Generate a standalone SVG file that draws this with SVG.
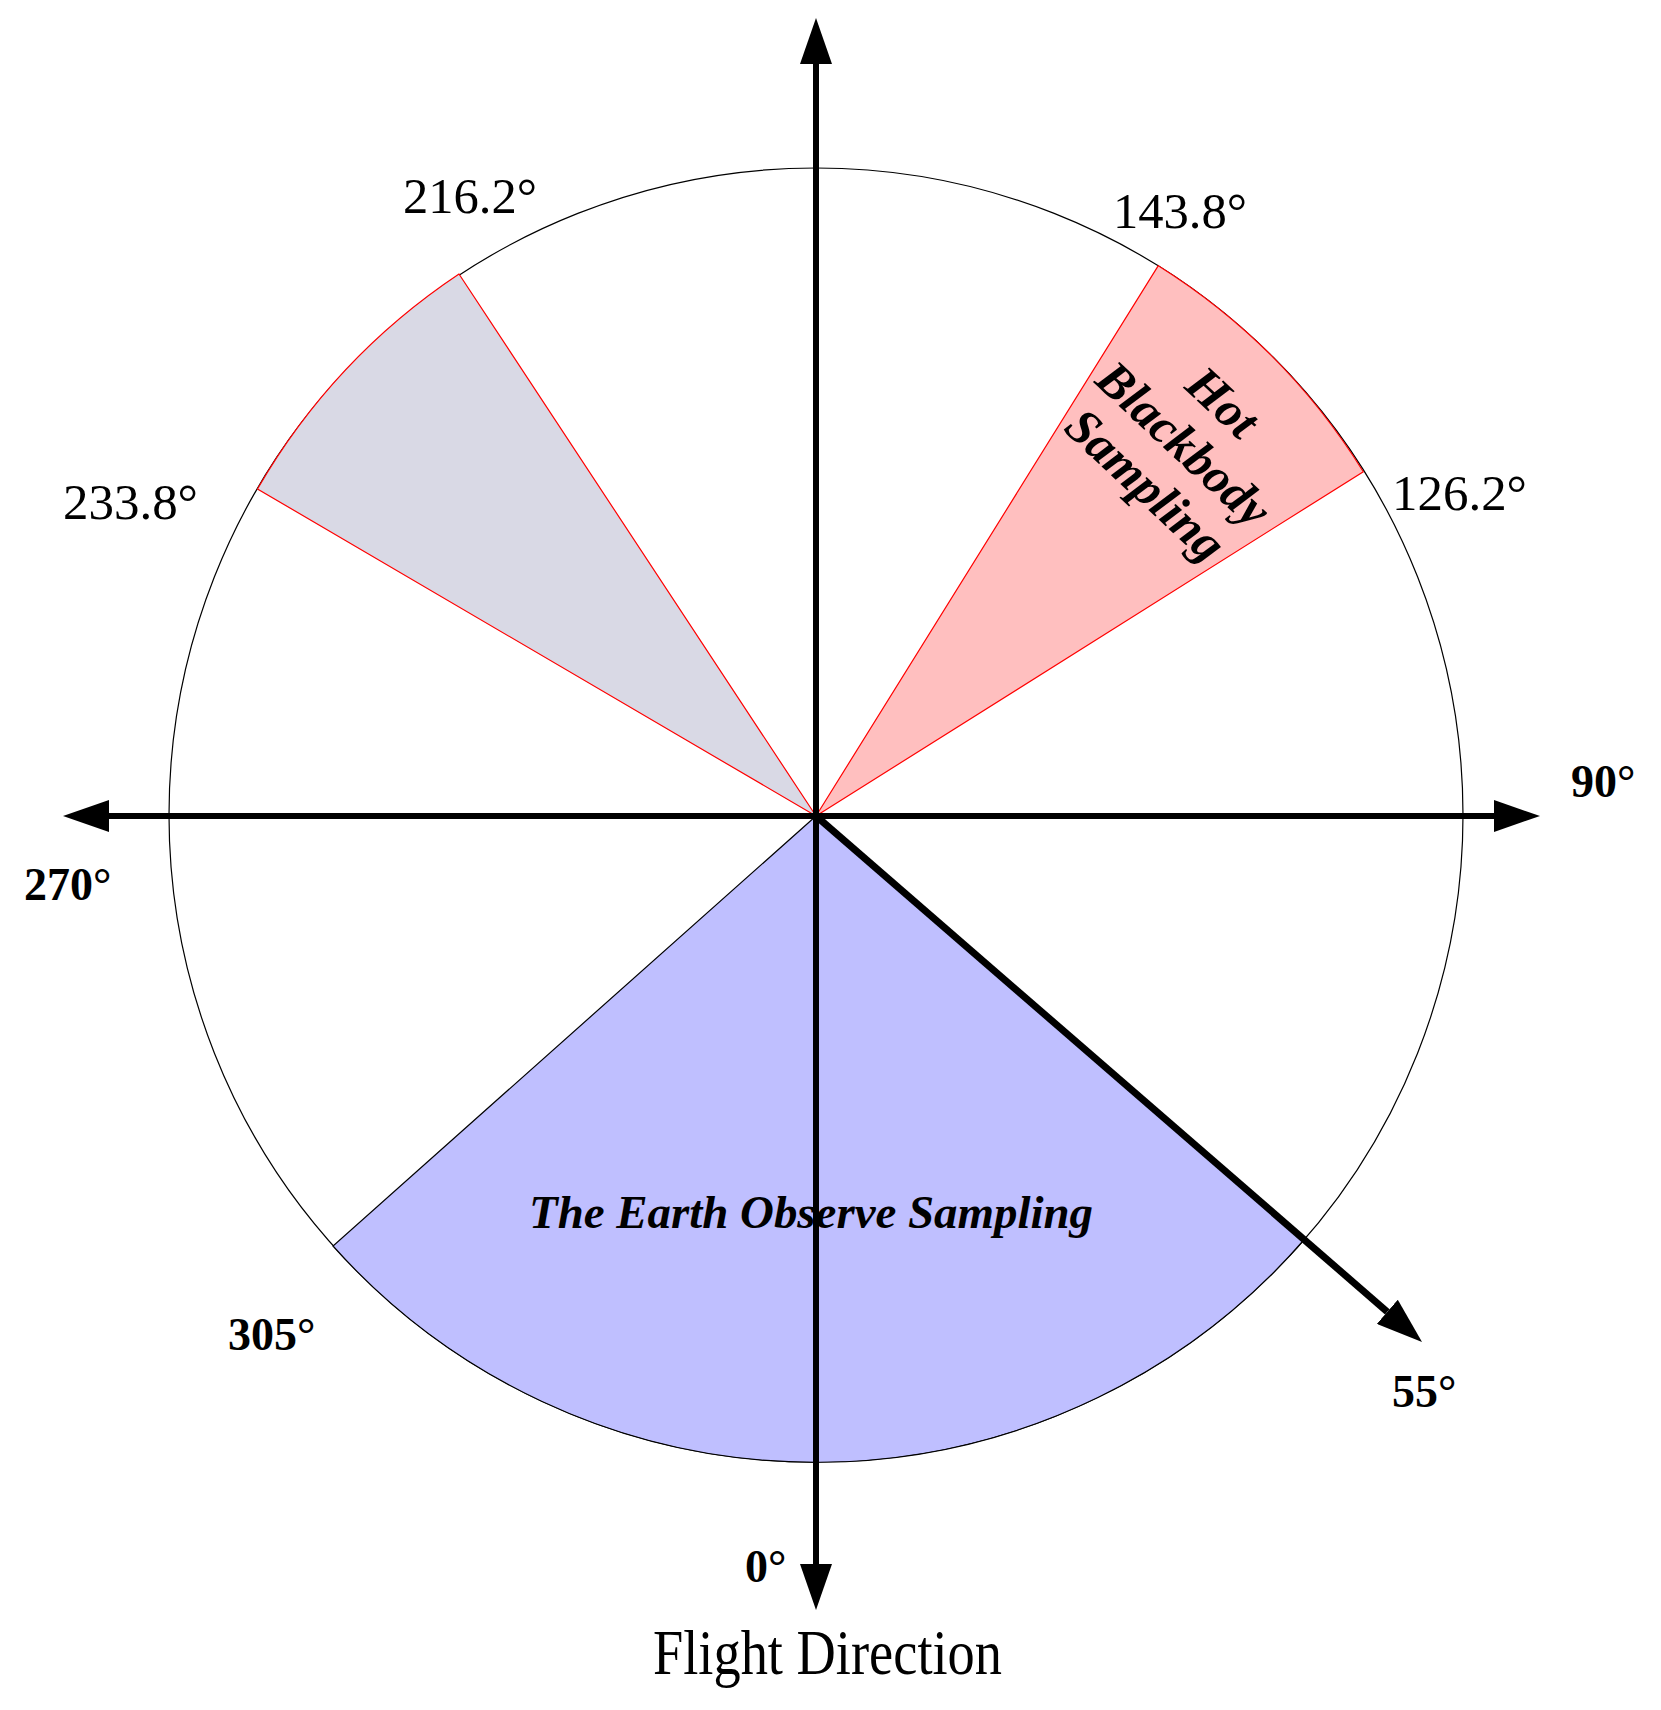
<svg xmlns="http://www.w3.org/2000/svg" width="1661" height="1710" viewBox="0 0 1661 1710">
<style>
.ring{fill:#fff;stroke:#000;stroke-width:1.2}
.sec-red{fill:#FFBFBF;stroke:#FF0000;stroke-width:1.2}
.sec-gray{fill:#D9D9E5;stroke:#FF0000;stroke-width:1.2}
.sec-blue{fill:#BFBFFF;stroke:#000;stroke-width:1.2}
.axis{stroke:#000;stroke-width:6;fill:none}
.diag{stroke:#000;stroke-width:7;fill:none}
.ang{font-family:"Liberation Serif","Times New Roman",serif;font-size:50px;fill:#000}
.bold{font-family:"Liberation Serif","Times New Roman",serif;font-size:46px;font-weight:bold;fill:#000}
.bi{font-family:"Liberation Serif","Times New Roman",serif;font-size:47px;font-weight:bold;font-style:italic;fill:#000}
.bi2{font-family:"Liberation Serif","Times New Roman",serif;font-size:50px;font-weight:bold;font-style:italic;fill:#000}
.cap{font-family:"Liberation Serif","Times New Roman",serif;font-size:64px;fill:#000}
</style>
<defs>
<marker id="arrow" markerUnits="userSpaceOnUse" markerWidth="46" markerHeight="32" viewBox="0 0 46 32" refX="0" refY="16" orient="auto-start-reverse">
<path d="M0,0 L46,16 L0,32 Z" fill="#000"/>
</marker>
</defs>
<g id="ring"><circle class="ring" cx="816" cy="815" r="647"/></g>
<g id="sector-earth"><path class="sec-blue" d="M816,816 L333,1246 A647,647 0 0 0 1304.3,1239.5 Z"/></g>
<g id="sector-cold"><path class="sec-gray" d="M816,816 L257.5,489 A647,647 0 0 1 459,274 Z"/></g>
<g id="sector-hot"><path class="sec-red" d="M816,816 L1158.3,265.7 A647,647 0 0 1 1363.3,471.7 Z"/></g>
<g id="connectors">
<line class="axis" x1="816" y1="64" x2="816" y2="1564" marker-start="url(#arrow)" marker-end="url(#arrow)"/>
<line class="axis" x1="109" y1="816" x2="1494" y2="816" marker-start="url(#arrow)" marker-end="url(#arrow)"/>
<line class="diag" x1="816" y1="816" x2="1387.3" y2="1311.8" marker-end="url(#arrow)"/>
</g>
<g id="labels">
<text class="ang" x="403" y="213" textLength="134" lengthAdjust="spacingAndGlyphs">216.2°</text>
<text class="ang" x="1113" y="228" textLength="134" lengthAdjust="spacingAndGlyphs">143.8°</text>
<text class="ang" x="63" y="519" textLength="135" lengthAdjust="spacingAndGlyphs">233.8°</text>
<text class="ang" x="1392" y="510" textLength="135" lengthAdjust="spacingAndGlyphs">126.2°</text>
<text class="bold" x="1571" y="797">90°</text>
<text class="bold" x="24" y="900">270°</text>
<text class="bold" x="228" y="1350">305°</text>
<text class="bold" x="1392" y="1407">55°</text>
<text class="bold" x="745" y="1582">0°</text>
<text class="bi" x="529" y="1228" textLength="564" lengthAdjust="spacingAndGlyphs">The Earth  Observe Sampling</text>
<g transform="translate(1180,448) rotate(43)">
<text class="bi2" x="0" y="-46" text-anchor="middle">Hot</text>
<text class="bi2" x="0" y="11" text-anchor="middle">Blackbody</text>
<text class="bi2" x="0" y="67" text-anchor="middle">Sampling</text>
</g>
<text class="cap" x="653" y="1674" textLength="349" lengthAdjust="spacingAndGlyphs">Flight Direction</text>
</g>
</svg>
